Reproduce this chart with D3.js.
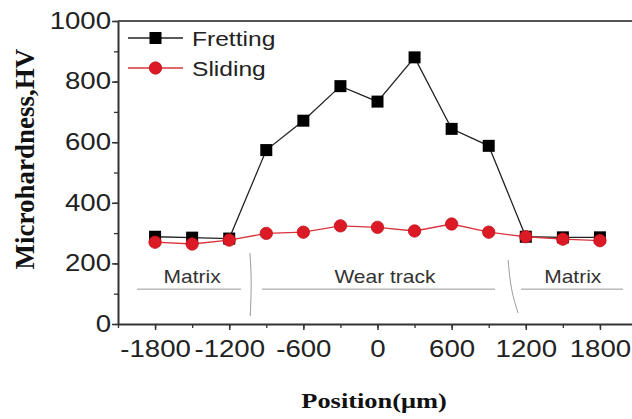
<!DOCTYPE html>
<html>
<head>
<meta charset="utf-8">
<script src="https://cdn.jsdelivr.net/npm/d3@7"></script>
<style>
  body { margin: 0; background: #fff; }
  svg { display: block; }
</style>
</head>
<body>
<script>
var width = 632,
    height = 419;

// data
var positions = [-1800, -1500, -1200, -900, -600, -300, 0, 300, 600, 900, 1200, 1500, 1800];
var fretting = [288, 285, 282, 574, 671, 785, 734, 880, 644, 588, 288, 286, 286];
var sliding = [270, 264, 277, 299, 303, 324, 319, 307, 330, 303, 288, 280, 275];
var xTicks = [-1800, -1200, -600, 0, 600, 1200, 1800];
var yTicks = [0, 200, 400, 600, 800, 1000];

// region notes under the curves (data units)
var regionNames = ["Matrix", "Wear track", "Matrix"];
var regionTextX = [-1500, 60, 1580];
var regionSpans = [[-1946, -1105], [-935, 951], [1161, 1987]];
var dividers = [[[-1032, 234], [-1018, 140], [-1030, 26]], [[1057, 211], [1080, 110], [1138, 36]]];

var stretch = 1.2; // glyphs in the picture are wider than normal
var plain = function (d) { return String(d); };

var x = d3.scaleLinear().domain([-2100, 2100]).range([118, 637]);
var y = d3.scaleLinear().domain([0, 1000]).range([324, 21]);

var svg = d3.select("body").append("svg")
    .attr("width", width)
    .attr("height", height);

// top frame line
svg.append("line")
    .attr("x1", x(-2100)).attr("x2", width)
    .attr("y1", y(1000)).attr("y2", y(1000))
    .attr("stroke", "#555").attr("stroke-width", 2);

// minor ticks
svg.append("g")
    .attr("transform", "translate(0," + y(0) + ")")
    .call(d3.axisBottom(x).tickValues(d3.range(-2100, 2101, 300)).tickSize(4).tickFormat(""))
    .call(function (g) { g.select(".domain").remove(); })
    .selectAll("line").attr("stroke", "#333").attr("stroke-width", 1.3);
svg.append("g")
    .attr("transform", "translate(" + x(-2100) + ",0)")
    .call(d3.axisLeft(y).tickValues(d3.range(0, 1001, 100)).tickSize(4).tickFormat(""))
    .call(function (g) { g.select(".domain").remove(); })
    .selectAll("line").attr("stroke", "#333").attr("stroke-width", 1.3);

// main axes
var xAxis = svg.append("g")
    .attr("transform", "translate(0," + y(0) + ")")
    .call(d3.axisBottom(x).tickValues(xTicks).tickFormat(plain).tickSize(6).tickPadding(11).tickSizeOuter(0));
var yAxis = svg.append("g")
    .attr("transform", "translate(" + x(-2100) + ",0)")
    .call(d3.axisLeft(y).tickValues(yTicks).tickFormat(plain).tickSize(6).tickPadding(5).tickSizeOuter(0));

[xAxis, yAxis].forEach(function (g) {
    g.select(".domain").attr("stroke", "#333").attr("stroke-width", 2);
    g.selectAll(".tick line").attr("stroke", "#333").attr("stroke-width", 1.5);
    g.selectAll(".tick text")
        .attr("fill", "#222")
        .style("font-family", "'Liberation Sans', Arial, sans-serif")
        .style("font-size", "23px");
});
xAxis.selectAll(".tick text").attr("transform", "scale(" + stretch + ",1)");
yAxis.selectAll(".tick text")
    .attr("x", -7 / stretch)
    .attr("transform", "scale(" + stretch + ",1)");

// region notes
var notes = svg.append("g").attr("class", "notes");
regionSpans.forEach(function (s) {
    notes.append("line")
        .attr("x1", x(s[0])).attr("x2", x(s[1]))
        .attr("y1", y(115)).attr("y2", y(115))
        .attr("stroke", "#999").attr("stroke-width", 1);
});
var curve = d3.line().x(function (d) { return x(d[0]); }).y(function (d) { return y(d[1]); }).curve(d3.curveBasis);
dividers.forEach(function (d) {
    notes.append("path")
        .attr("d", curve(d))
        .attr("fill", "none")
        .attr("stroke", "#999").attr("stroke-width", 1);
});
regionNames.forEach(function (n, i) {
    notes.append("text")
        .attr("transform", "translate(" + x(regionTextX[i]) + "," + y(135) + ") scale(" + stretch + ",1)")
        .attr("text-anchor", "middle")
        .attr("fill", "#333")
        .style("font-family", "'Liberation Sans', Arial, sans-serif")
        .style("font-size", "17.5px")
        .text(n);
});

// series
var fretData = positions.map(function (p, i) { return [p, fretting[i]]; });
var slideData = positions.map(function (p, i) { return [p, sliding[i]]; });
var line = d3.line().x(function (d) { return x(d[0]); }).y(function (d) { return y(d[1]); });

svg.append("path")
    .attr("d", line(fretData))
    .attr("fill", "none").attr("stroke", "#222").attr("stroke-width", 1.3);
svg.append("g").selectAll("rect")
    .data(fretData)
    .join("rect")
    .attr("x", function (d) { return x(d[0]) - 6; })
    .attr("y", function (d) { return y(d[1]) - 6; })
    .attr("width", 12).attr("height", 12)
    .attr("fill", "#000");

svg.append("path")
    .attr("d", line(slideData))
    .attr("fill", "none").attr("stroke", "#d9333c").attr("stroke-width", 1.3);
svg.append("g").selectAll("circle")
    .data(slideData)
    .join("circle")
    .attr("cx", function (d) { return x(d[0]); })
    .attr("cy", function (d) { return y(d[1]); })
    .attr("r", 6.2)
    .attr("fill", "#dc1a26")
    .attr("stroke", "#c0141e").attr("stroke-width", 0.8);

// legend
var legend = svg.append("g");
var legendItems = [
    {name: "Fretting", ly: 38},
    {name: "Sliding", ly: 68}
];
legendItems.forEach(function (it, i) {
    legend.append("line")
        .attr("x1", 128).attr("x2", 183)
        .attr("y1", it.ly).attr("y2", it.ly)
        .attr("stroke", i === 0 ? "#222" : "#d9333c").attr("stroke-width", 1.3);
    if (i === 0) {
        legend.append("rect")
            .attr("x", 155.5 - 6).attr("y", it.ly - 6)
            .attr("width", 12).attr("height", 12)
            .attr("fill", "#000");
    } else {
        legend.append("circle")
            .attr("cx", 155.5).attr("cy", it.ly).attr("r", 6.2)
            .attr("fill", "#dc1a26")
            .attr("stroke", "#c0141e").attr("stroke-width", 0.8);
    }
    legend.append("text")
        .attr("transform", "translate(192," + (it.ly + 8) + ") scale(" + stretch + ",1)")
        .attr("fill", "#222")
        .style("font-family", "'Liberation Sans', Arial, sans-serif")
        .style("font-size", "20.5px")
        .text(it.name);
});

// axis titles
svg.append("text")
    .attr("transform", "translate(374,408) scale(" + stretch + ",1)")
    .attr("text-anchor", "middle")
    .attr("fill", "#111")
    .style("font-family", "'Liberation Serif', 'Times New Roman', serif")
    .style("font-weight", "bold")
    .style("font-size", "22px")
    .text("Position(\u03bcm)");

svg.append("text")
    .attr("transform", "translate(34,159) rotate(-90)")
    .attr("text-anchor", "middle")
    .attr("fill", "#111")
    .style("font-family", "'Liberation Serif', 'Times New Roman', serif")
    .style("font-weight", "bold")
    .style("font-size", "27px")
    .text("Microhardness,HV");
</script>
</body>
</html>
